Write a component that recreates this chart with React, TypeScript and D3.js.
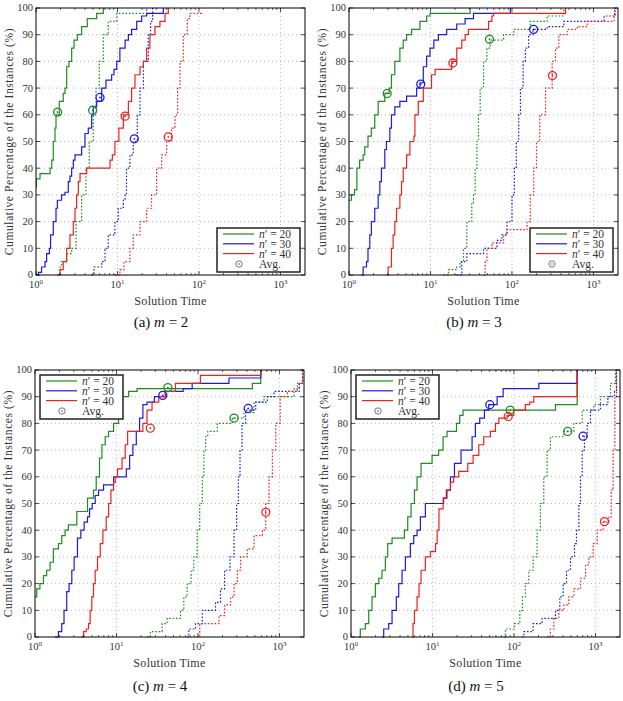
import React from 'react';
import * as d3 from 'd3';

// [solution time, cumulative %]; solid and dotted curves per n'
const m2_n20_solid = [[1, 33], [1.01, 36], [1.12, 38], [1.49, 40], [1.56, 43], [1.63, 50], [1.71, 55], [1.76, 60], [1.93, 65], [2.16, 68], [2.27, 70], [2.38, 78], [2.54, 80], [2.74, 85], [2.93, 88], [3.21, 90], [3.63, 93], [4.26, 96], [5.55, 98], [6.7, 100]];
const m2_n20_dotted = [[1.83, 0], [1.97, 3], [2.06, 5], [2.38, 8], [2.74, 10], [3.1, 20], [3.63, 30], [4.1, 40], [4.5, 50], [5.05, 60], [5.45, 70], [5.98, 80], [6.7, 90], [7.7, 95], [9.8, 98], [22.8, 100]];
const m2_n30_solid = [[1, 0], [1.07, 1], [1.17, 3], [1.29, 5], [1.35, 8], [1.46, 10], [1.51, 15], [1.63, 20], [1.76, 25], [1.83, 28], [2.06, 30], [2.27, 31], [2.49, 35], [2.61, 37], [2.74, 40], [2.87, 43], [3.01, 45], [3.63, 48], [3.99, 53], [4.38, 55], [4.82, 60], [5.05, 63], [5.55, 65], [6.4, 70], [7.22, 73], [8.48, 75], [9.06, 77], [9.78, 80], [10.7, 85], [12.4, 88], [13.6, 90], [14.9, 92], [17.2, 95], [19.8, 97], [22.8, 98], [36.5, 100]];
const m2_n30_dotted = [[4.82, 0], [5.15, 3], [6.4, 5], [7.03, 10], [7.7, 15], [9.3, 20], [10.2, 25], [11.8, 28], [12.4, 30], [12.9, 40], [14.2, 45], [15.6, 50], [17.5, 60], [18.9, 70], [20.8, 80], [23.9, 90], [25.5, 95], [27, 100]];
const m2_n40_solid = [[1.83, 0], [1.97, 2], [2.16, 5], [2.38, 10], [2.61, 15], [2.87, 20], [3.01, 25], [3.15, 30], [3.31, 35], [3.47, 38], [4.19, 40], [8.09, 43], [8.65, 45], [9.3, 50], [10.4, 55], [11.8, 60], [13.6, 65], [14.9, 70], [16.4, 75], [18.9, 78], [20.8, 80], [22.8, 85], [25, 90], [28.8, 93], [33.2, 95], [38.3, 98], [42, 100]];
const m2_n40_dotted = [[9.3, 0], [10.7, 2], [12, 5], [14.2, 10], [15.6, 15], [18.9, 20], [22.8, 25], [26.2, 30], [30.2, 40], [34.8, 45], [40.1, 50], [46.2, 55], [50.8, 60], [54.7, 70], [58.5, 80], [64.2, 90], [71.9, 96], [77.6, 98], [113, 98]];
const m2_avg = [[1.84, 61], [4.96, 61.7], [6.1, 66.5], [16.1, 51], [12.4, 59.5], [42, 51.7]];

const m3_n20_solid = [[1, 28], [1.07, 30], [1.17, 32], [1.25, 40], [1.35, 43], [1.49, 45], [1.56, 48], [1.71, 52], [1.88, 55], [2.07, 60], [2.28, 65], [2.75, 68], [3.11, 70], [3.32, 75], [3.65, 80], [4.21, 85], [4.63, 88], [5.09, 90], [5.86, 92], [7.42, 95], [8.97, 97], [9.86, 98], [30.7, 100]];
const m3_n20_dotted = [[14.4, 0], [16.6, 2], [21, 3], [23.1, 5], [25.4, 10], [27.9, 20], [32.1, 27], [33.7, 30], [35.3, 40], [37.1, 50], [38.8, 60], [40.7, 70], [44.8, 80], [49.2, 85], [54.1, 88], [78.9, 90], [105, 92], [168, 95], [270, 97], [432, 100]];
const m3_n30_solid = [[1.42, 0], [1.49, 3], [1.64, 5], [1.71, 10], [1.8, 15], [1.88, 20], [2.07, 25], [2.28, 30], [2.39, 35], [2.5, 40], [2.75, 47], [2.88, 50], [3.17, 55], [3.32, 60], [3.65, 63], [4.21, 65], [5.09, 67], [6.76, 70], [7.42, 72], [8.16, 78], [8.97, 82], [9.86, 85], [11, 88], [12.5, 90], [15.8, 92], [21, 94], [26.6, 96], [33.7, 98], [95.4, 100]];
const m3_n30_dotted = [[21, 0], [24.2, 5], [27.9, 8], [44.8, 10], [65.3, 13], [75.3, 15], [86.8, 20], [100, 30], [107, 40], [113, 50], [121, 60], [127, 70], [137, 80], [146, 85], [160, 90], [181, 92], [270, 93], [433, 95], [1350, 97], [1820, 100]];
const m3_n40_solid = [[2.88, 0], [3.02, 3], [3.32, 10], [3.48, 15], [3.65, 20], [3.83, 25], [4.21, 30], [4.41, 35], [4.63, 40], [5.09, 45], [5.59, 50], [6.26, 52], [6.44, 60], [7.08, 65], [8.16, 70], [10.3, 75], [11.4, 77], [18.2, 80], [21, 85], [24.2, 88], [26.6, 90], [29.2, 92], [51.6, 95], [56.7, 97], [59.4, 98], [454, 100]];
const m3_n40_dotted = [[44.8, 0], [46.9, 5], [49.2, 10], [56.7, 12], [78.9, 15], [86.8, 17], [153, 20], [168, 30], [185, 40], [200, 50], [219, 60], [258, 70], [311, 80], [342, 85], [376, 90], [476, 92], [631, 93], [839, 95], [1790, 97], [1850, 100]];
const m3_avg = [[2.94, 68], [53, 88.3], [7.6, 71.5], [184, 92], [18.8, 79.4], [314, 74.7]];

const m4_n20_solid = [[1, 15], [1.05, 18], [1.15, 20], [1.27, 23], [1.39, 25], [1.53, 28], [1.68, 33], [1.94, 35], [2.13, 38], [2.34, 40], [2.57, 42], [3.26, 47], [4.41, 52], [5.22, 55], [5.64, 60], [6.19, 67], [6.62, 72], [7.27, 75], [8, 77], [9.21, 80], [10.6, 85], [11.7, 90], [14.1, 92], [17.9, 93], [465, 95], [589, 100]];
const m4_n20_dotted = [[23.7, 0], [26, 2], [36.3, 5], [41.8, 7], [61, 10], [67, 15], [73.6, 20], [82.4, 25], [88.9, 30], [97.8, 40], [105, 50], [113, 60], [118, 70], [124, 75], [132, 77], [172, 80], [264, 82], [367, 84], [487, 88], [647, 90], [1510, 93], [1750, 95], [1920, 100]];
const m4_n30_solid = [[1.76, 0], [1.94, 2], [2.13, 5], [2.27, 10], [2.45, 17], [2.62, 20], [2.83, 25], [3.02, 30], [3.32, 37], [3.65, 40], [4.01, 43], [4.41, 45], [4.67, 48], [5.03, 50], [5.48, 53], [6.02, 55], [6.94, 57], [9.21, 60], [13.2, 63], [14.5, 68], [15.9, 72], [17.5, 77], [19.2, 82], [21.1, 87], [23.7, 88], [29.2, 90], [39.8, 92], [65.8, 93], [84.9, 95], [240, 97], [589, 100]];
const m4_n30_dotted = [[73.6, 0], [77.2, 3], [93.3, 5], [113, 10], [164, 13], [189, 18], [212, 25], [247, 30], [277, 40], [298, 50], [313, 60], [328, 70], [347, 80], [385, 85], [511, 88], [711, 90], [859, 92], [1750, 95], [1920, 100]];
const m4_n40_solid = [[3.68, 0], [3.94, 2], [4.25, 3], [4.54, 5], [4.75, 10], [4.98, 15], [5.22, 20], [5.48, 25], [5.85, 30], [6.32, 35], [6.81, 40], [7.48, 45], [8, 50], [8.54, 55], [9.21, 58], [9.66, 60], [10.3, 63], [11.7, 67], [12.8, 72], [13.7, 77], [21.1, 80], [23.7, 85], [27.3, 88], [33, 90], [39.8, 92], [52.9, 95], [107, 98], [589, 100]];
const m4_n40_dotted = [[97.8, 0], [105, 5], [181, 8], [212, 12], [252, 15], [277, 20], [304, 25], [334, 30], [403, 33], [487, 38], [617, 40], [678, 50], [745, 60], [819, 70], [901, 80], [1020, 90], [1250, 92], [1660, 95], [1920, 100]];
const m4_avg = [[42.7, 93.4], [277, 82], [37, 90.5], [413, 85.6], [26, 78.2], [680, 46.7]];

const m5_n20_solid = [[1.24, 0], [1.3, 3], [1.5, 5], [1.65, 10], [1.81, 15], [1.99, 20], [2.19, 22], [2.4, 25], [2.64, 30], [2.82, 35], [3.19, 37], [4.52, 40], [4.97, 45], [5.46, 50], [6, 55], [6.46, 60], [7.24, 65], [9.88, 68], [11.9, 70], [13.5, 75], [15.1, 77], [19.7, 80], [21.6, 83], [23.7, 85], [323, 87], [596, 100]];
const m5_n20_dotted = [[75, 0], [78.5, 3], [101, 5], [118, 10], [127, 15], [138, 20], [152, 25], [172, 30], [192, 40], [211, 50], [232, 60], [255, 70], [280, 75], [409, 77], [543, 80], [687, 85], [955, 87], [1150, 90], [1530, 95], [1760, 100]];
const m5_n30_solid = [[2.4, 0], [2.52, 3], [2.9, 5], [3.19, 10], [3.6, 15], [3.85, 20], [4.23, 25], [4.65, 30], [5.35, 35], [5.88, 38], [6.46, 40], [7.1, 45], [8.18, 50], [13.7, 52], [14.8, 55], [16.6, 60], [18.6, 65], [22.4, 70], [30.6, 75], [33.6, 80], [38, 82], [43.4, 85], [49, 87], [62.1, 90], [73.6, 93], [202, 95], [596, 100]];
const m5_n30_dotted = [[126, 0], [132, 2], [172, 5], [221, 7], [323, 10], [365, 15], [401, 20], [441, 25], [494, 30], [553, 35], [585, 40], [625, 50], [655, 60], [687, 70], [733, 75], [791, 80], [869, 85], [1150, 87], [1420, 90], [1710, 92], [1810, 100]];
const m5_n40_solid = [[5.61, 0], [5.77, 5], [6, 10], [6.46, 15], [6.84, 20], [7.24, 25], [8.18, 30], [9.42, 32], [10.9, 35], [11.4, 40], [12, 48], [13.5, 52], [15.1, 55], [16.6, 58], [18.2, 60], [21, 62], [27.1, 65], [31.5, 68], [37, 72], [42.6, 75], [51.4, 77], [59.2, 80], [65.1, 82], [82.4, 83], [99.5, 85], [138, 87], [156, 88], [175, 90], [596, 100]];
const m5_n40_dotted = [[255, 0], [280, 3], [308, 7], [355, 10], [409, 12], [471, 15], [543, 18], [655, 22], [755, 27], [829, 30], [936, 35], [1050, 40], [1240, 43], [1460, 45], [1560, 55], [1650, 70], [1730, 90], [1810, 100]];
const m5_avg = [[90, 85], [456, 77], [50.5, 87], [705, 75.2], [85, 82.6], [1290, 43.2]];

const nLabels = ['20', '30', '40'];
const colors = ['#1e8c1e', '#1a1ae6', '#f02020'];
const yTicks = [0, 10, 20, 30, 40, 50, 60, 70, 80, 90, 100];
const xTicks = [1, 10, 100, 1000];

const panels = [
  { id: 'a', m: 2, left: 36, top: 8, legend: [217, 228], curves: [m2_n20_solid, m2_n20_dotted, m2_n30_solid, m2_n30_dotted, m2_n40_solid, m2_n40_dotted], avg: m2_avg },
  { id: 'b', m: 3, left: 349, top: 8, legend: [530, 228], curves: [m3_n20_solid, m3_n20_dotted, m3_n30_solid, m3_n30_dotted, m3_n40_solid, m3_n40_dotted], avg: m3_avg },
  { id: 'c', m: 4, left: 35, top: 370, legend: [40, 375], curves: [m4_n20_solid, m4_n20_dotted, m4_n30_solid, m4_n30_dotted, m4_n40_solid, m4_n40_dotted], avg: m4_avg },
  { id: 'd', m: 5, left: 351, top: 370, legend: [356, 375], curves: [m5_n20_solid, m5_n20_dotted, m5_n30_solid, m5_n30_dotted, m5_n40_solid, m5_n40_dotted], avg: m5_avg },
];

const FONT = "'Liberation Serif', 'DejaVu Serif', serif";
const W = 269;
const H = 267;

function AvgMark({ cx, cy, color }: { cx: number; cy: number; color: string }) {
  return (
    <g>
      <circle cx={cx} cy={cy} r={4} fill="none" stroke={color} strokeWidth={1.3} />
      <circle cx={cx} cy={cy} r={0.9} fill={color} />
    </g>
  );
}

function Panel({ p }: { p: any }) {
  const x = d3.scaleLog().domain([1, 2000]).range([p.left, p.left + W]);
  const y = d3.scaleLinear().domain([0, 100]).range([p.top + H, p.top]);
  const line = d3.line<number[]>().x((d) => x(d[0])).y((d) => y(d[1])).curve(d3.curveStepAfter);
  const minor: number[] = [];
  [1, 10, 100, 1000].forEach((dec) => {
    for (let k = 2; k <= 9; k++) if (dec * k < 2000) minor.push(dec * k);
  });
  const bottom = p.top + H;
  const right = p.left + W;
  const [lx, ly] = p.legend;
  const clipId = `clip-${p.id}`;
  return (
    <g>
      <defs>
        <clipPath id={clipId}>
          <rect x={p.left} y={p.top - 1} width={W} height={H + 2} />
        </clipPath>
      </defs>
      {/* grid */}
      {yTicks.slice(1, -1).map((t) => (
        <line key={'gy' + t} x1={p.left} x2={right} y1={y(t)} y2={y(t)} stroke="#aaa" strokeWidth={0.8} strokeDasharray="1,3" />
      ))}
      {xTicks.slice(1).map((t) => (
        <line key={'gx' + t} x1={x(t)} x2={x(t)} y1={p.top} y2={bottom} stroke="#aaa" strokeWidth={0.8} strokeDasharray="1,3" />
      ))}
      {/* curves */}
      <g clipPath={`url(#${clipId})`}>
        {p.curves.map((c: number[][], i: number) => (
          <path key={i} d={line(c) || ''} fill="none" stroke={colors[Math.floor(i / 2)]} strokeWidth={1.2}
            strokeDasharray={i % 2 === 1 ? '1.6,1.8' : undefined} />
        ))}
      </g>
      {p.avg.map((a: number[], i: number) => (
        <AvgMark key={'avg' + i} cx={x(a[0])} cy={y(a[1])} color={colors[Math.floor(i / 2)]} />
      ))}
      {/* ticks */}
      {yTicks.map((t) => (
        <g key={'ty' + t}>
          <line x1={p.left} x2={p.left + 4} y1={y(t)} y2={y(t)} stroke="#000" strokeWidth={0.7} />
          <line x1={right - 4} x2={right} y1={y(t)} y2={y(t)} stroke="#000" strokeWidth={0.7} />
          <text x={p.left - 3} y={y(t) + 3.4} textAnchor="end" fontSize={10.5} fontFamily={FONT} fill="#333">{t}</text>
        </g>
      ))}
      {xTicks.map((t, i) => (
        <g key={'tx' + t}>
          <line x1={x(t)} x2={x(t)} y1={bottom} y2={bottom - 4} stroke="#000" strokeWidth={0.7} />
          <line x1={x(t)} x2={x(t)} y1={p.top} y2={p.top + 4} stroke="#000" strokeWidth={0.7} />
          <text x={x(t)} y={bottom + 13} textAnchor="middle" fontSize={10.5} fontFamily={FONT} fill="#333">
            10<tspan fontSize={7} dy={-4}>{i}</tspan>
          </text>
        </g>
      ))}
      {minor.map((t) => (
        <g key={'mx' + t}>
          <line x1={x(t)} x2={x(t)} y1={bottom} y2={bottom - 2} stroke="#000" strokeWidth={0.6} />
          <line x1={x(t)} x2={x(t)} y1={p.top} y2={p.top + 2} stroke="#000" strokeWidth={0.6} />
        </g>
      ))}
      <rect x={p.left} y={p.top} width={W} height={H} fill="none" stroke="#000" strokeWidth={1} />
      {/* axis titles */}
      <text x={p.left + W / 2} y={bottom + 30} textAnchor="middle" fontSize={12} fontFamily={FONT} fill="#333" letterSpacing={0.3}>Solution Time</text>
      <text transform={`translate(${p.left - 23},${p.top + H / 2}) rotate(-90)`} textAnchor="middle" fontSize={11.5}
        fontFamily={FONT} fill="#333" letterSpacing={0.6}>Cumulative Percentage of the Instances (%)</text>
      {/* legend */}
      <g>
        <rect x={lx} y={ly} width={83} height={44} fill="#fff" stroke="#222" strokeWidth={1.5} />
        {nLabels.map((n, i) => (
          <g key={'lg' + n}>
            <line x1={lx + 6} x2={lx + 37} y1={ly + 6 + i * 9.8} y2={ly + 6 + i * 9.8} stroke={colors[i]} strokeWidth={1.2} />
            <text x={lx + 42} y={ly + 10 + i * 9.8} fontSize={11.5} fontFamily={FONT} fill="#333">
              <tspan fontStyle="italic">n</tspan>′ = {n}
            </text>
          </g>
        ))}
        <circle cx={lx + 22} cy={ly + 36} r={3.2} fill="none" stroke="#555" strokeWidth={0.8} />
        <circle cx={lx + 22} cy={ly + 36} r={0.8} fill="#555" />
        <text x={lx + 42} y={ly + 40} fontSize={11.5} fontFamily={FONT} fill="#333">Avg.</text>
      </g>
      {/* caption */}
      <text x={p.left + 125} y={p.id < 'c' ? 327 : 691} textAnchor="middle" fontSize={15} fontFamily={FONT} fill="#111">
        ({p.id}) <tspan fontStyle="italic">m</tspan> = {p.m}
      </text>
    </g>
  );
}

export default function App() {
  return (
    <svg width={623} height={701} style={{ position: 'absolute', left: 0, top: 0, background: '#fff' }}>
      {panels.map((p) => (
        <Panel key={p.id} p={p} />
      ))}
    </svg>
  );
}
